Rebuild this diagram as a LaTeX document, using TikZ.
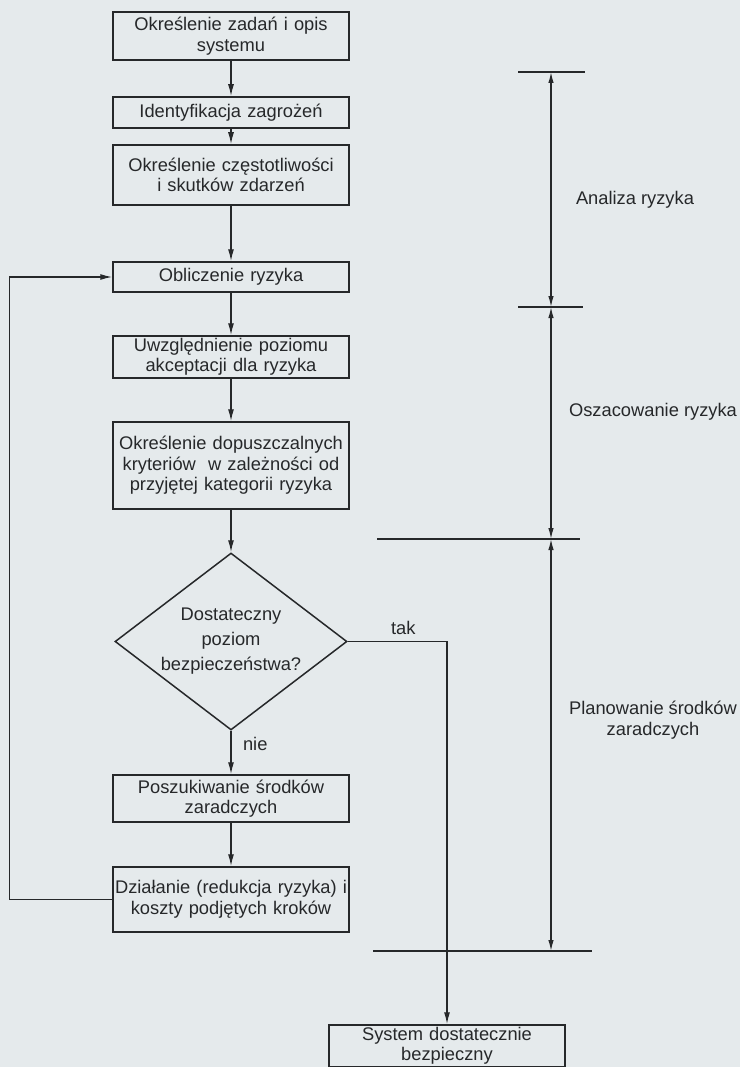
\documentclass[tikz,border=0pt]{standalone}
\usepackage{fontspec}
\setmainfont{Liberation Sans}
\usepackage{xcolor}
\usepackage{tikz}
\usetikzlibrary{shapes,arrows.meta,calc}

\definecolor{paper}{RGB}{229,234,236}
\definecolor{ink}{RGB}{38,40,42}

\begin{document}
\begin{tikzpicture}[
    x=1pt, y=-1pt,
    every node/.style={font=\fontsize{18.3}{20.5}\selectfont, text=ink},
    block/.style={rectangle, draw=ink, line width=1.5pt, text width=234pt, minimum width=236pt, inner sep=1pt, align=center},
    decision/.style={diamond, draw=ink, line width=1.5pt, aspect=1.3, minimum width=232pt, minimum height=177pt, inner sep=0pt, align=center, font=\fontsize{18.3}{25}\selectfont},
    phase/.style={align=center, inner sep=1pt},
    arrow/.style={->, >={Latex[length=12pt, width=6pt]}, draw=ink, line width=1.4pt},
    dim/.style={<->, >={Latex[length=11pt, width=5.5pt]}, draw=ink, line width=1.3pt},
    tick/.style={draw=ink, line width=1.4pt}
]

% paper
\fill[paper] (0,0) rectangle (740,1067);
\useasboundingbox (0,0) rectangle (740,1067);

% main flow
\node[block, minimum height=48pt] (task) at (231,36) {Określenie zadań i opis\\systemu};
\node[block, minimum height=31pt] (hazard) at (231,112.5) {Identyfikacja zagrożeń};
\node[block, minimum height=60pt] (freq) at (231,175) {Określenie częstotliwości\\i skutków zdarzeń};
\node[block, minimum height=30pt] (risk) at (231,277) {Obliczenie ryzyka};
\node[block, minimum height=42pt] (accept) at (231,357) {Uwzględnienie poziomu\\akceptacji dla ryzyka};
\node[block, minimum height=87pt] (criteria) at (231,465.5) {Określenie dopuszczalnych\\kryteriów\ \ w zależności od\\przyjętej kategorii ryzyka};
\node[decision] (check) at (231,641.5) {\rule{0pt}{10pt}Dostateczny\\poziom\\bezpieczeństwa?};
\node[block, minimum height=47pt] (search) at (231,798.5) {Poszukiwanie środków\\zaradczych};
\node[block, minimum height=65pt] (action) at (231,899.5) {Działanie (redukcja ryzyka) i\\koszty podjętych kroków};
\node[block, minimum height=42pt] (safe) at (447,1046) {System dostatecznie\\bezpieczny};

% phases
\node[phase] (analysis) at (635,200) {Analiza ryzyka};
\node[phase] (estimate) at (653,412) {Oszacowanie ryzyka};
\node[phase] (plan) at (653,720) {Planowanie środków\\zaradczych};

% arrows
\draw[arrow] (task) -- (hazard);
\draw[arrow] (hazard) -- (freq);
\draw[arrow] (freq) -- (risk);
\draw[arrow] (risk) -- (accept);
\draw[arrow] (accept) -- (criteria);
\draw[arrow] (criteria) -- (check);
\draw[arrow] (check) -- node[right=8pt, pos=0.3] {nie} (search);
\draw[arrow] (search) -- (action);
\draw[arrow] (action.west) -- ++(-103,0) |- (risk.west);
\draw[arrow] (check.east) -| node[pos=0.28, above=3pt] {tak} (safe.north);

% range marks
\coordinate (m1) at (551,72);
\coordinate (m2) at (551,307);
\coordinate (m3) at (551,539);
\coordinate (m4) at (551,951);
\draw[tick] (518,72) -- (585,72);
\draw[tick] (518,307) -- (583,307);
\draw[tick] (377,539) -- (580,539);
\draw[tick] (373,951) -- (592,951);
\draw[dim] (m1) -- (m2);
\draw[dim] (m2) -- (m3);
\draw[dim] (m3) -- (m4);

\end{tikzpicture}
\end{document}
